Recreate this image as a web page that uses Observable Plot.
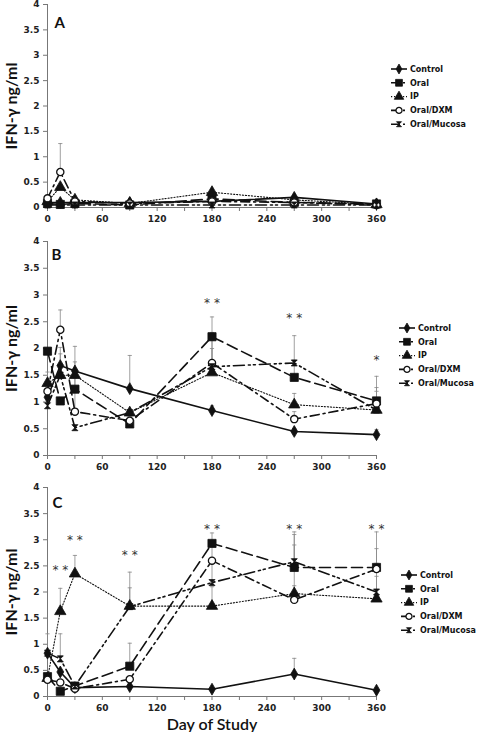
<!DOCTYPE html>
<html>
<head>
<meta charset="utf-8">
<script src="https://cdn.jsdelivr.net/npm/d3@7"></script>
<script src="https://cdn.jsdelivr.net/npm/@observablehq/plot@0.6"></script>
<style>
  body { margin: 0; background: #fff; }
  #chart { width: 480px; height: 732px; position: relative; overflow: hidden; }
  #chart svg { display: block; }
</style>
</head>
<body>
<div id="chart"></div>
<script>
// ---- data ----
const days = [0, 14, 30, 90, 180, 270, 360];
const seriesNames = ["Control", "Oral", "IP", "Oral/DXM", "Oral/Mucosa"];
const panelLabels = ["A", "B", "C"];
const xTickLabels = [0, 60, 120, 180, 240, 300, 360];
const xMinorTicks = [0, 30, 60, 90, 120, 150, 180, 210, 240, 270, 300, 330, 360];
const yTicks = [0, 0.5, 1, 1.5, 2, 2.5, 3, 3.5, 4];

// values per series, in order of seriesNames
const valuesA = [
  [0.10, 0.10, 0.10, 0.10, 0.12, 0.20, 0.07],
  [0.08, 0.06, 0.08, 0.05, 0.17, 0.10, 0.07],
  [0.12, 0.40, 0.15, 0.08, 0.30, 0.15, 0.06],
  [0.18, 0.70, 0.12, 0.08, 0.12, 0.10, 0.05],
  [0.05, 0.05, 0.05, 0.05, 0.05, 0.05, 0.05]
];
const errorsA = [
  [null, null, null, null, null, null, null],
  [null, null, null, null, null, null, null],
  [null, null, null, null, null, null, null],
  [null, 1.26, null, null, null, null, null],
  [null, null, null, null, null, null, null]
];
const valuesB = [
  [1.09, 1.68, 1.58, 1.25, 0.84, 0.45, 0.39],
  [1.95, 1.02, 1.24, 0.59, 2.22, 1.46, 1.02],
  [1.35, 1.50, 1.50, 0.80, 1.55, 0.95, 0.85],
  [1.20, 2.35, 0.82, 0.65, 1.73, 0.68, 0.97],
  [0.93, 1.50, 0.52, 0.80, 1.66, 1.73, 0.85]
];
const errorsB = [
  [null, 2.02, 1.75, 1.87, 0.93, 0.50, 0.48],
  [null, null, 1.45, 0.72, 2.59, 2.24, 1.48],
  [1.56, 1.90, 1.62, null, 2.00, 1.16, 1.20],
  [null, 2.72, 2.04, null, 2.30, 0.82, 1.27],
  [null, null, null, null, 2.15, 1.78, null]
];
const valuesC = [
  [0.83, 0.47, 0.17, 0.19, 0.14, 0.43, 0.12],
  [0.38, 0.10, 0.20, 0.58, 2.93, 2.47, 2.47],
  [0.35, 1.63, 2.35, 1.73, 1.73, 1.97, 1.87],
  [0.32, 0.27, 0.15, 0.33, 2.60, 1.85, 2.44],
  [0.83, 0.72, 0.20, 1.72, 2.18, 2.58, 2.00]
];
const errorsC = [
  [1.20, null, null, null, null, 0.73, null],
  [null, null, null, 1.02, 3.13, 3.15, 3.15],
  [null, 2.07, 2.70, 2.38, 2.10, 2.12, 2.30],
  [null, null, null, null, 2.92, 3.10, 2.83],
  [null, 1.20, null, 2.08, 2.60, 2.90, 2.55]
];
const starsB = [{day: 180, y: 2.85, t: "* *"}, {day: 270, y: 2.57, t: "* *"}, {day: 360, y: 1.79, t: "*"}];
const starsC = [{day: 14, y: 2.41, t: "* *"}, {day: 30, y: 3.0, t: "* *"}, {day: 90, y: 2.71, t: "* *"},
                {day: 180, y: 3.2, t: "* *"}, {day: 270, y: 3.2, t: "* *"}, {day: 360, y: 3.2, t: "* *"}];

// ---- styles ----
const hourglass = {
  draw(ctx, size) {
    const s = Math.sqrt(size) / 2;
    ctx.moveTo(-s, -s); ctx.lineTo(s, -s); ctx.lineTo(-s, s); ctx.lineTo(s, s); ctx.closePath();
  }
};
const styles = [
  {dash: null, width: 1.6, symbol: "diamond", r: 3.6, fill: "#111", stroke: "#111"},
  {dash: "11,5", width: 1.6, symbol: "square", r: 4.6, fill: "#111", stroke: "#111"},
  {dash: "1.2,1.8", width: 1.1, symbol: "triangle", r: 4.2, fill: "#111", stroke: "#111"},
  {dash: "9,4,2,4", width: 1.6, symbol: "circle", r: 3.6, fill: "#fff", stroke: "#111"},
  {dash: "11,4,2,3,2,4", width: 1.6, symbol: hourglass, r: 3.4, fill: "#111", stroke: "#111"}
];

const tickFont = "DejaVu Sans, Verdana, sans-serif";
const labelFont = "Lato, 'Open Sans', sans-serif";

function panel(idx, values, errors, stars, opts) {
  const rows = [];
  const errs = [];
  values.forEach((arr, s) => arr.forEach((v, i) => {
    rows.push({series: seriesNames[s], s, day: days[i], v});
    if (errors[s][i] != null) errs.push({s, day: days[i], v, e: errors[s][i]});
  }));
  const marks = [
    Plot.ruleX([0], {stroke: "#777", strokeWidth: 1}),
    Plot.ruleY([0], {stroke: "#777", strokeWidth: 1}),
    Plot.axisY({ticks: yTicks, tickFormat: d => String(d), tickSize: 4, tickPadding: 4,
      fontSize: 9, fontWeight: "bold", fill: "#222", stroke: "#777", label: null}),
    Plot.axisX({ticks: xMinorTicks, text: null, tickSize: 4, stroke: "#777", label: null}),
    Plot.axisX({ticks: xTickLabels, tickFormat: d => String(d), tickSize: 0, tickPadding: 8,
      fontSize: 9, fontWeight: "bold", fill: "#222", label: null}),
    Plot.ruleX(errs, {x: "day", y1: "v", y2: "e", stroke: "#888", strokeWidth: 0.8}),
    Plot.link(errs, {x1: d => d.day - 2.3, x2: d => d.day + 2.3, y1: "e", y2: "e", stroke: "#888", strokeWidth: 0.8}),
  ];
  styles.forEach((st, s) => {
    const data = rows.filter(d => d.s === s);
    marks.push(Plot.line(data, {x: "day", y: "v", stroke: "#111", strokeWidth: st.width,
      strokeDasharray: st.dash ?? undefined}));
  });
  styles.forEach((st, s) => {
    const data = rows.filter(d => d.s === s);
    marks.push(Plot.dot(data, {x: "day", y: "v", symbol: () => st.symbol, r: st.r, fill: st.fill,
      stroke: st.stroke, strokeWidth: st.fill === "#fff" ? 1.3 : 0.8}));
  });
  marks.push(Plot.text(stars, {x: "day", y: "y", text: "t", fontSize: 12, fill: "#333",
    fontFamily: "DejaVu Sans", lineAnchor: "middle"}));
  marks.push(Plot.text([panelLabels[idx]], {frameAnchor: "top-left", dx: opts.ldx, dy: opts.ldy,
    text: d => d, fontSize: 15, fontWeight: "bold", fontFamily: labelFont, fill: "#111", lineAnchor: "middle"}));
  marks.push(Plot.text(["IFN-γ ng/ml"], {frameAnchor: "left", dx: -36, rotate: -90, text: d => d,
    fontSize: 16, fontWeight: "bold", fontFamily: labelFont, fill: "#111", textAnchor: "middle"}));
  if (opts.xLabel) {
    marks.push(Plot.text([opts.xLabel], {frameAnchor: "bottom", dy: opts.xLabelDy, text: d => d,
      fontSize: 16, fontWeight: 600, fontFamily: labelFont, fill: "#111", lineAnchor: "middle"}));
  }

  const svg = Plot.plot({
    width: 480, height: opts.height,
    marginLeft: 47, marginRight: 104, marginTop: opts.mt, marginBottom: opts.mb,
    x: {domain: [0, 360]},
    y: {domain: [0, 4]},
    style: {fontFamily: tickFont, overflow: "visible", background: "#fff"},
    marks
  });

  // legend (local svg coordinates)
  const g = d3.select(svg).append("g").attr("font-family", tickFont).attr("font-size", 8)
    .attr("font-weight", "bold").attr("fill", "#111").attr("text-anchor", "start");
  seriesNames.forEach((name, s) => {
    const st = styles[s];
    const y = opts.legY + s * 13.8;
    const x0 = opts.legX;
    g.append("line").attr("x1", x0).attr("x2", x0 + 16).attr("y1", y).attr("y2", y)
      .attr("stroke", "#111").attr("stroke-width", st.width)
      .attr("stroke-dasharray", s === 0 ? null : (s === 2 ? "1.2,1.8" : "9,3,2,3"));
    const sym = typeof st.symbol === "string"
      ? {diamond: d3.symbolDiamond, square: d3.symbolSquare, triangle: d3.symbolTriangle, circle: d3.symbolCircle}[st.symbol]
      : st.symbol;
    const size = Math.PI * st.r * st.r * 0.7;
    g.append("path").attr("d", d3.symbol(sym, size)()).attr("transform", `translate(${x0 + 8},${y})`)
      .attr("fill", st.fill).attr("stroke", st.stroke).attr("stroke-width", st.fill === "#fff" ? 1.3 : 0.8);
    g.append("text").attr("x", x0 + 19).attr("y", y).attr("dy", "0.35em").attr("text-anchor", "start").text(name);
  });
  return svg;
}

const root = document.getElementById("chart");
root.appendChild(panel(0, valuesA, errorsA, [], {height: 228, mt: 4, mb: 21, ldx: 7, ldy: 19, legX: 391, legY: 69}));
root.appendChild(panel(1, valuesB, errorsB, starsB, {height: 248, mt: 13, mb: 21, ldx: 4, ldy: 14, legX: 399, legY: 100}));
root.appendChild(panel(2, valuesC, errorsC, starsC, {height: 256, mt: 11, mb: 36, ldx: 5, ldy: 16, legX: 401, legY: 99,
  xLabel: "Day of Study", xLabelDy: 28}));
</script>
</body>
</html>
